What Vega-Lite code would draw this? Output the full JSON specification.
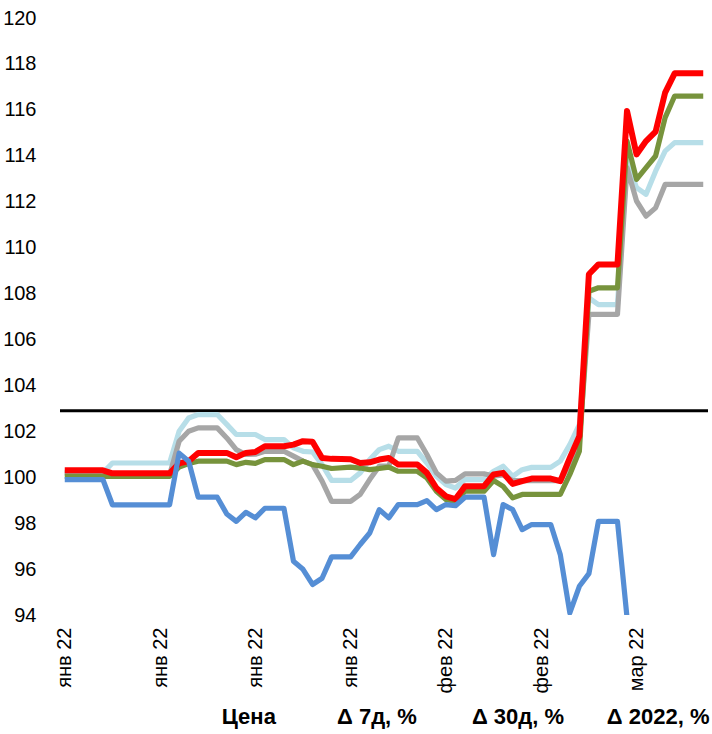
{
  "$schema": "https://vega.github.io/schema/vega-lite/v6.json",
  "width": 648,
  "height": 597,
  "autosize": {"type": "none"},
  "padding": {"top": 18, "left": 60, "right": 4, "bottom": 119},
  "background": "white",
  "config": {
    "view": {"stroke": null},
    "axis": {"labelFont": "Liberation Sans", "labelFontSize": 20, "labelColor": "#000", "domain": false, "ticks": false, "tickSize": 0, "grid": false, "title": null}
  },
  "title": {
    "text": "Цена\u00a0\u00a0\u00a0\u00a0\u00a0\u00a0\u00a0\u00a0\u00a0\u00a0Δ 7д, %\u00a0\u00a0\u00a0\u00a0\u00a0\u00a0\u00a0\u00a0\u00a0Δ 30д, %\u00a0\u00a0\u00a0\u00a0\u00a0\u00a0\u00a0Δ 2022, %",
    "orient": "bottom",
    "anchor": "end",
    "font": "Liberation Sans",
    "fontSize": 22,
    "fontWeight": "bold",
    "color": "#000",
    "offset": 14
  },
  "layer": [
    {
      "data": {"values": [{}]},
      "mark": {"type": "rule", "color": "#000", "strokeWidth": 3},
      "encoding": {"y": {"datum": 102.9, "type": "quantitative"}}
    },
    {
      "data": {"values": [
        {"date": "2022-01-01", "s1": 100.19, "s2": 100.19, "s3": 100.04, "s4": 100.3, "s5": 99.9},
        {"date": "2022-01-05", "s1": 100.19, "s2": 100.19, "s3": 100.04, "s4": 100.3, "s5": 99.9},
        {"date": "2022-01-06", "s1": 100.62, "s2": 100.1, "s3": 100.04, "s4": 100.17, "s5": 98.8},
        {"date": "2022-01-12", "s1": 100.62, "s2": 100.1, "s3": 100.04, "s4": 100.17, "s5": 98.8},
        {"date": "2022-01-13", "s1": 102.0, "s2": 101.57, "s3": 100.44, "s4": 100.6, "s5": 101.05},
        {"date": "2022-01-14", "s1": 102.58, "s2": 102.0, "s3": 100.6, "s4": 100.7, "s5": 100.7},
        {"date": "2022-01-15", "s1": 102.73, "s2": 102.15, "s3": 100.7, "s4": 101.06, "s5": 99.13},
        {"date": "2022-01-17", "s1": 102.73, "s2": 102.15, "s3": 100.7, "s4": 101.06, "s5": 99.13},
        {"date": "2022-01-18", "s1": 102.3, "s2": 101.71, "s3": 100.7, "s4": 101.06, "s5": 98.4},
        {"date": "2022-01-19", "s1": 101.86, "s2": 101.2, "s3": 100.55, "s4": 100.87, "s5": 98.08},
        {"date": "2022-01-20", "s1": 101.86, "s2": 100.99, "s3": 100.65, "s4": 101.06, "s5": 98.47},
        {"date": "2022-01-21", "s1": 101.86, "s2": 101.0, "s3": 100.6, "s4": 101.1, "s5": 98.23},
        {"date": "2022-01-22", "s1": 101.64, "s2": 101.13, "s3": 100.77, "s4": 101.35, "s5": 98.65},
        {"date": "2022-01-24", "s1": 101.64, "s2": 101.13, "s3": 100.77, "s4": 101.35, "s5": 98.65},
        {"date": "2022-01-25", "s1": 101.28, "s2": 100.92, "s3": 100.55, "s4": 101.42, "s5": 96.34},
        {"date": "2022-01-26", "s1": 101.13, "s2": 100.7, "s3": 100.7, "s4": 101.57, "s5": 95.99},
        {"date": "2022-01-27", "s1": 101.1, "s2": 100.55, "s3": 100.55, "s4": 101.55, "s5": 95.33},
        {"date": "2022-01-28", "s1": 100.55, "s2": 99.83, "s3": 100.48, "s4": 100.84, "s5": 95.6},
        {"date": "2022-01-29", "s1": 99.86, "s2": 98.95, "s3": 100.38, "s4": 100.8, "s5": 96.53},
        {"date": "2022-01-31", "s1": 99.86, "s2": 98.95, "s3": 100.44, "s4": 100.78, "s5": 96.53},
        {"date": "2022-02-01", "s1": 100.19, "s2": 99.25, "s3": 100.4, "s4": 100.62, "s5": 97.07},
        {"date": "2022-02-02", "s1": 100.77, "s2": 99.9, "s3": 100.33, "s4": 100.65, "s5": 97.57},
        {"date": "2022-02-03", "s1": 101.2, "s2": 100.48, "s3": 100.38, "s4": 100.77, "s5": 98.59},
        {"date": "2022-02-04", "s1": 101.35, "s2": 100.48, "s3": 100.44, "s4": 100.84, "s5": 98.23},
        {"date": "2022-02-05", "s1": 101.13, "s2": 101.71, "s3": 100.26, "s4": 100.55, "s5": 98.81},
        {"date": "2022-02-07", "s1": 101.13, "s2": 101.71, "s3": 100.26, "s4": 100.55, "s5": 98.81},
        {"date": "2022-02-08", "s1": 100.62, "s2": 100.99, "s3": 99.97, "s4": 100.19, "s5": 98.98},
        {"date": "2022-02-09", "s1": 100.04, "s2": 100.19, "s3": 99.39, "s4": 99.53, "s5": 98.59},
        {"date": "2022-02-10", "s1": 99.68, "s2": 99.83, "s3": 99.03, "s4": 99.17, "s5": 98.81},
        {"date": "2022-02-11", "s1": 99.53, "s2": 99.86, "s3": 98.95, "s4": 99.05, "s5": 98.76},
        {"date": "2022-02-12", "s1": 99.9, "s2": 100.15, "s3": 99.39, "s4": 99.61, "s5": 99.13},
        {"date": "2022-02-14", "s1": 99.9, "s2": 100.15, "s3": 99.39, "s4": 99.61, "s5": 99.13},
        {"date": "2022-02-15", "s1": 100.26, "s2": 100.05, "s3": 99.86, "s4": 100.12, "s5": 96.63},
        {"date": "2022-02-16", "s1": 100.48, "s2": 100.1, "s3": 99.6, "s4": 100.19, "s5": 98.81},
        {"date": "2022-02-17", "s1": 100.04, "s2": 99.85, "s3": 99.1, "s4": 99.71, "s5": 98.59},
        {"date": "2022-02-18", "s1": 100.33, "s2": 99.85, "s3": 99.25, "s4": 99.83, "s5": 97.72},
        {"date": "2022-02-19", "s1": 100.43, "s2": 99.85, "s3": 99.25, "s4": 99.94, "s5": 97.94},
        {"date": "2022-02-21", "s1": 100.43, "s2": 99.85, "s3": 99.25, "s4": 99.94, "s5": 97.94},
        {"date": "2022-02-22", "s1": 100.7, "s2": 99.85, "s3": 99.25, "s4": 99.83, "s5": 96.63},
        {"date": "2022-02-23", "s1": 101.42, "s2": 100.6, "s3": 100.12, "s4": 100.84, "s5": 94.09},
        {"date": "2022-02-24", "s1": 102.29, "s2": 101.6, "s3": 101.13, "s4": 101.79, "s5": 95.25},
        {"date": "2022-02-25", "s1": 107.81, "s2": 107.09, "s3": 108.1, "s4": 108.84, "s5": 95.8},
        {"date": "2022-02-26", "s1": 107.52, "s2": 107.09, "s3": 108.25, "s4": 109.27, "s5": 98.08},
        {"date": "2022-02-28", "s1": 107.52, "s2": 107.09, "s3": 108.25, "s4": 109.27, "s5": 98.08},
        {"date": "2022-03-01", "s1": 113.77, "s2": 113.48, "s3": 114.64, "s4": 115.95, "s5": 93.9},
        {"date": "2022-03-02", "s1": 112.61, "s2": 112.03, "s3": 112.97, "s4": 114.06, "s5": null},
        {"date": "2022-03-03", "s1": 112.32, "s2": 111.37, "s3": 113.48, "s4": 114.64, "s5": null},
        {"date": "2022-03-04", "s1": 113.33, "s2": 111.73, "s3": 113.99, "s4": 115.05, "s5": null},
        {"date": "2022-03-05", "s1": 114.2, "s2": 112.75, "s3": 115.66, "s4": 116.75, "s5": null},
        {"date": "2022-03-06", "s1": 114.57, "s2": 112.75, "s3": 116.6, "s4": 117.59, "s5": null},
        {"date": "2022-03-09", "s1": 114.57, "s2": 112.75, "s3": 116.6, "s4": 117.59, "s5": null}
      ]},
      "transform": [
        {"fold": ["s1", "s2", "s3", "s4", "s5"], "as": ["series", "value"]},
        {"filter": "datum.value != null"}
      ],
      "mark": {"type": "line", "clip": true, "strokeJoin": "round", "strokeCap": "butt"},
      "encoding": {
        "x": {
          "field": "date",
          "type": "temporal",
          "scale": {"type": "utc", "domain": [
            {"year": 2021, "month": 12, "date": 31, "hours": 12, "utc": true},
            {"year": 2022, "month": 3, "date": 9, "hours": 12, "utc": true}
          ]},
          "axis": {
            "values": [
              {"year": 2022, "month": 1, "date": 1, "utc": true},
              {"year": 2022, "month": 1, "date": 11, "utc": true},
              {"year": 2022, "month": 1, "date": 21, "utc": true},
              {"year": 2022, "month": 1, "date": 31, "utc": true},
              {"year": 2022, "month": 2, "date": 10, "utc": true},
              {"year": 2022, "month": 2, "date": 20, "utc": true},
              {"year": 2022, "month": 3, "date": 2, "utc": true}
            ],
            "labelExpr": "['янв','фев','мар'][utcmonth(datum.value)] + ' 22'",
            "labelAngle": -90,
            "labelPadding": 12
          }
        },
        "y": {
          "field": "value",
          "type": "quantitative",
          "scale": {"domain": [94, 120], "nice": false, "zero": false},
          "axis": {"values": [94, 96, 98, 100, 102, 104, 106, 108, 110, 112, 114, 116, 118, 120], "labelPadding": 24}
        },
        "color": {
          "field": "series",
          "type": "nominal",
          "scale": {"domain": ["s1", "s2", "s3", "s4", "s5"], "range": ["#B7DEE8", "#A6A6A6", "#77933C", "#FF0000", "#558ED5"]},
          "legend": null
        },
        "strokeWidth": {
          "condition": {"test": "datum.series == 's4'", "value": 6},
          "value": 5.2
        }
      }
    }
  ]
}
